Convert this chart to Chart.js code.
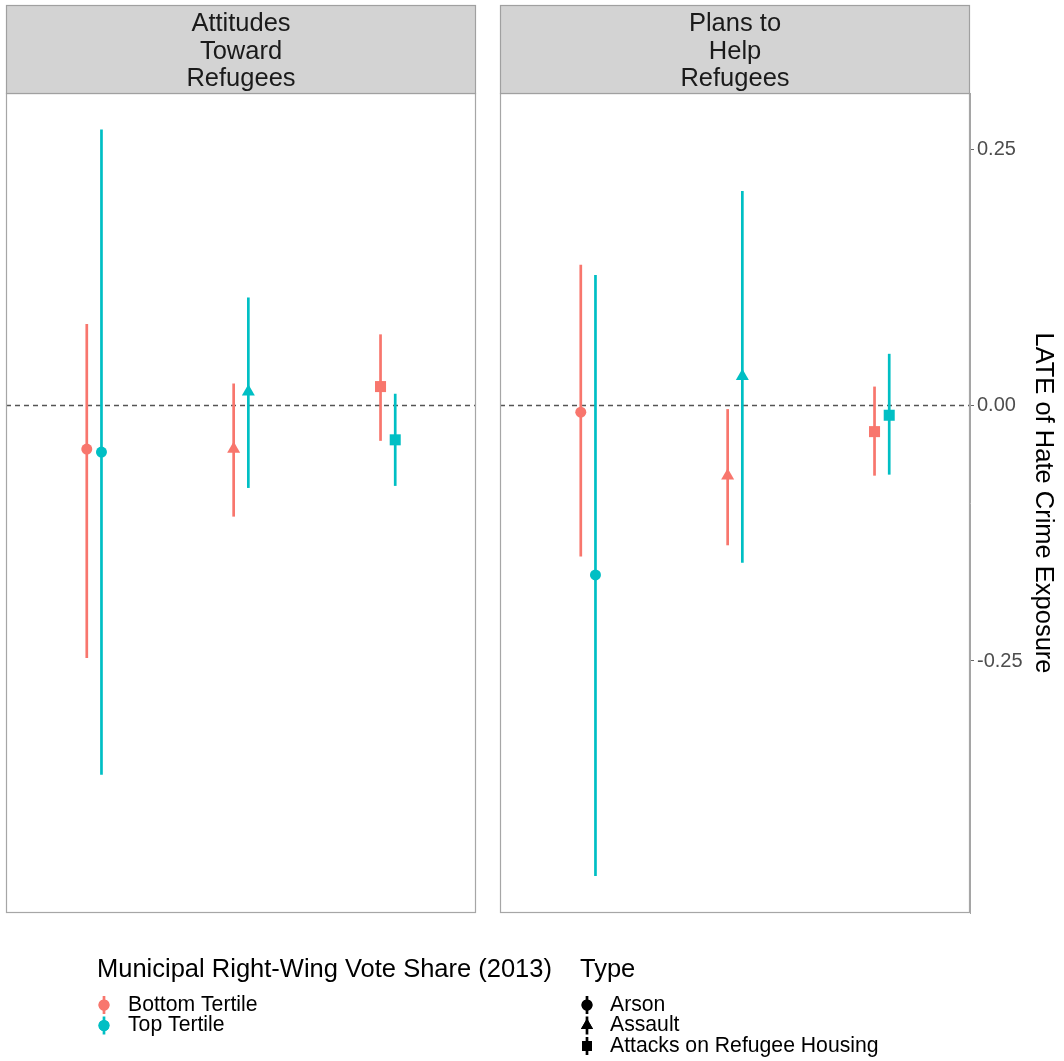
<!DOCTYPE html>
<html><head><meta charset="utf-8">
<script src="https://cdn.jsdelivr.net/npm/chart.js@4/dist/chart.umd.min.js"></script>
<style>html,body{margin:0;padding:0;background:#fff}#wrap{width:1064px;height:1061px;position:relative}</style>
</head><body><div id="wrap"><canvas id="c" width="1064" height="1061"></canvas></div>
<script>
// ---- data ----
const panelLabels = [['Attitudes','Toward','Refugees'], ['Plans to','Help','Refugees']];
const types = ['Arson','Assault','Attacks on Refugee Housing'];
const tertiles = ['Bottom Tertile','Top Tertile'];
const legendTitleColor = 'Municipal Right-Wing Vote Share (2013)';
const legendTitleShape = 'Type';
const axisTitle = 'LATE of Hate Crime Exposure';
const yTicks = [-0.25, 0, 0.25];
// Attitudes Toward Refugees
const attBottomEst = [-0.043, -0.043, 0.018];
const attBottomLo  = [-0.247, -0.109, -0.035];
const attBottomHi  = [0.079, 0.021, 0.069];
const attTopEst    = [-0.046, 0.013, -0.034];
const attTopLo     = [-0.361, -0.081, -0.079];
const attTopHi     = [0.269, 0.105, 0.011];
// Plans to Help Refugees
const planBottomEst = [-0.007, -0.069, -0.026];
const planBottomLo  = [-0.148, -0.137, -0.069];
const planBottomHi  = [0.137, -0.004, 0.018];
const planTopEst    = [-0.166, 0.028, -0.010];
const planTopLo     = [-0.460, -0.154, -0.068];
const planTopHi     = [0.127, 0.209, 0.050];

// ---- layout / style ----
const FONT = "'Liberation Sans', Arial, Helvetica, sans-serif";
const colors = ['#F8766D', '#00BFC4'];
const shapes = ['circle', 'triangle', 'rect'];
const radii = [5.5, 7.5, 7.8];
const PANEL_W = 3.2, EXPAND = 0.6, GAP = 0.1634, DODGE = 0.05;
const panelStart = [0, PANEL_W + GAP];
const X_MAX = 2 * PANEL_W + GAP;
const Y_MIN = -0.4961, Y_MAX = 0.3047;

const series = [
  [[attBottomEst, attBottomLo, attBottomHi], [attTopEst, attTopLo, attTopHi]],
  [[planBottomEst, planBottomLo, planBottomHi], [planTopEst, planTopLo, planTopHi]]
];

function xPos(p, ci, t) { return panelStart[p] + EXPAND + ci + (t === 0 ? -DODGE : DODGE); }

const datasets = [];
series.forEach((panel, p) => {
  panel.forEach(([est, lo, hi], t) => {
    est.forEach((v, ci) => {
      datasets.push({
        data: [{x: xPos(p, ci, t), y: lo[ci]}, {x: xPos(p, ci, t), y: hi[ci]}],
        showLine: true, borderColor: colors[t], borderWidth: 2.7, pointRadius: 0, order: 1
      });
    });
    datasets.push({
      data: est.map((v, ci) => ({x: xPos(p, ci, t), y: v})),
      showLine: false, pointStyle: shapes, pointRadius: radii,
      backgroundColor: colors[t], pointBorderColor: colors[t], pointBorderWidth: 0, order: 0
    });
  });
});

const facetPlugin = {
  id: 'facets',
  beforeDatasetsDraw(chart) {
    const {ctx, scales: {x, y}} = chart;
    const y0 = Math.round(y.getPixelForValue(0)) + 0.5;
    ctx.save();
    ctx.strokeStyle = '#555555'; ctx.lineWidth = 1.5; ctx.setLineDash([5, 4]);
    panelStart.forEach(s => {
      ctx.beginPath();
      ctx.moveTo(x.getPixelForValue(s), y0);
      ctx.lineTo(x.getPixelForValue(s + PANEL_W), y0);
      ctx.stroke();
    });
    ctx.restore();
  },
  afterDraw(chart) {
    const {ctx, chartArea, scales: {x}} = chart;
    ctx.save();
    const g0 = x.getPixelForValue(PANEL_W), g1 = x.getPixelForValue(panelStart[1]);
    ctx.fillStyle = '#fff';
    ctx.fillRect(g0 + 1, chartArea.top - 1, g1 - g0 - 2, chartArea.bottom - chartArea.top + 2);
    panelStart.forEach((s, p) => {
      const l = Math.round(x.getPixelForValue(s)) + 0.5;
      const r = Math.round(x.getPixelForValue(s + PANEL_W)) - 0.5;
      const top = Math.round(chartArea.top) + 0.5, bot = Math.round(chartArea.bottom) - 0.5;
      ctx.strokeStyle = '#a6a6a6'; ctx.lineWidth = 1.2; ctx.setLineDash([]);
      ctx.strokeRect(l, top, r - l, bot - top);
      const st = 5.5;
      ctx.fillStyle = '#d3d3d3';
      ctx.fillRect(l, st, r - l, top - st);
      ctx.strokeStyle = '#a0a0a0';
      ctx.strokeRect(l, st, r - l, top - st);
      ctx.fillStyle = '#1a1a1a';
      ctx.font = '25.5px ' + FONT;
      ctx.textAlign = 'center'; ctx.textBaseline = 'alphabetic';
      const cx = (l + r) / 2;
      panelLabels[p].forEach((line, i) => ctx.fillText(line, cx, 31 + i * 27.7));
    });
    // legend
    ctx.fillStyle = '#000';
    ctx.textAlign = 'left'; ctx.textBaseline = 'middle';
    ctx.font = '25.5px ' + FONT;
    ctx.fillText(legendTitleColor, 97, 970);
    ctx.fillText(legendTitleShape, 580, 970);
    ctx.font = '21.2px ' + FONT;
    const drawKey = (cx, cy, color, shape) => {
      ctx.strokeStyle = color; ctx.lineWidth = 2.7;
      ctx.beginPath(); ctx.moveTo(cx, cy - 9); ctx.lineTo(cx, cy + 9); ctx.stroke();
      ctx.fillStyle = color;
      Chart.helpers.drawPoint(ctx, {pointStyle: shape, radius: shape === 'circle' ? 5.5 : 7, borderWidth: 0}, cx, cy);
      ctx.fill();
    };
    tertiles.forEach((t, i) => {
      const cy = 1005 + i * 20.5;
      drawKey(104, cy, colors[i], 'circle');
      ctx.fillStyle = '#000';
      ctx.fillText(t, 128, cy);
    });
    types.forEach((t, i) => {
      const cy = 1005 + i * 20.5;
      drawKey(587, cy, '#000', shapes[i]);
      ctx.fillStyle = '#000';
      ctx.fillText(t, 610, cy);
    });
    ctx.restore();
  }
};

new Chart(document.getElementById('c'), {
  type: 'scatter',
  data: {datasets},
  options: {
    responsive: false, animation: false, devicePixelRatio: 1, events: [],
    layout: {padding: {left: 6, top: 93, bottom: 148, right: 0}, autoPadding: false},
    plugins: {legend: {display: false}, tooltip: {enabled: false}},
    scales: {
      x: {type: 'linear', display: false, min: 0, max: X_MAX},
      y: {
        type: 'linear', position: 'right', min: Y_MIN, max: Y_MAX,
        afterBuildTicks: s => { s.ticks = yTicks.map(v => ({value: v})); },
        afterFit: s => { s.width = 94; },
        grid: {drawOnChartArea: false, drawTicks: true, tickLength: 4, color: '#666666', tickWidth: 1},
        border: {display: true, color: '#a6a6a6', width: 1},
        ticks: {color: '#4d4d4d', font: {family: FONT, size: 20}, padding: 3,
                callback: v => Number(v).toFixed(2)},
        title: {display: true, text: axisTitle, color: '#000',
                font: {family: FONT, size: 25.5}, padding: {top: 6, bottom: 0}}
      }
    }
  },
  plugins: [facetPlugin]
});
</script></body></html>
